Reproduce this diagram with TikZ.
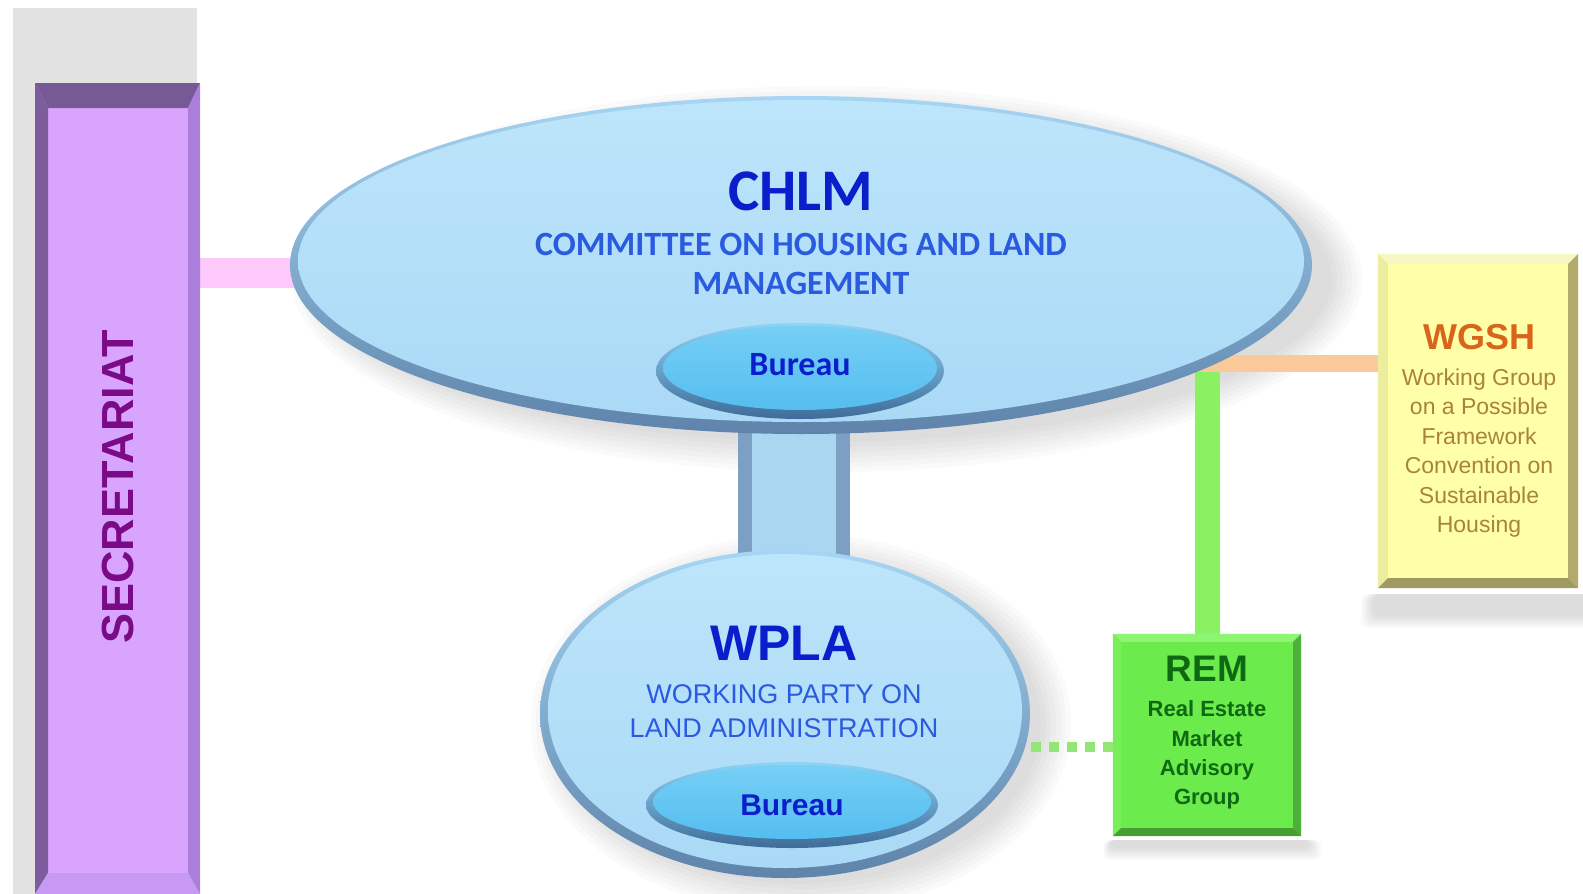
\documentclass[tikz,border=0pt]{standalone}
\usepackage{fontspec}
\setmainfont{Liberation Sans}
\newfontfamily\carlito{Carlito}
\usetikzlibrary{shapes.geometric,calc}
\pgfdeclarelayer{shadow}
\pgfdeclarelayer{bg}
\pgfsetlayers{shadow,bg,main}

\definecolor{secface}{HTML}{D9A4FE}
\definecolor{sectop}{HTML}{775A95}
\definecolor{secleft}{HTML}{7D5C9E}
\definecolor{secright}{HTML}{AC7EDC}
\definecolor{secbot}{HTML}{C799F2}
\definecolor{sectext}{HTML}{7B0A86}
\definecolor{shadowgray}{HTML}{E2E2E2}
\definecolor{pinkline}{HTML}{FDC8FA}
\definecolor{facetop}{HTML}{BDE5FB}
\definecolor{facebot}{HTML}{AAD9F6}
\definecolor{rimtop}{HTML}{A6D6F4}
\definecolor{rimbot}{HTML}{5F83AA}
\definecolor{burtop}{HTML}{76CFF6}
\definecolor{burbot}{HTML}{55BDF0}
\definecolor{burrimtop}{HTML}{8FD3F5}
\definecolor{burrimbot}{HTML}{3E6C98}
\definecolor{titleblue}{HTML}{0A1ECB}
\definecolor{subblue}{HTML}{2A5AE0}
\definecolor{barface}{HTML}{AAD6F2}
\definecolor{barside}{HTML}{7C9FC3}
\definecolor{remface}{HTML}{6CEB4C}
\definecolor{remtop}{HTML}{8CF672}
\definecolor{remleft}{HTML}{78EE5A}
\definecolor{remright}{HTML}{4EAF3A}
\definecolor{rembot}{HTML}{479F34}
\definecolor{remtext}{HTML}{0D6A12}
\definecolor{greenline}{HTML}{8CF162}
\definecolor{greendot}{HTML}{93E676}
\definecolor{orangeline}{HTML}{F9C99A}
\definecolor{wgface}{HTML}{FFFFA8}
\definecolor{wgtop}{HTML}{F7F7C4}
\definecolor{wgleft}{HTML}{EDEDA0}
\definecolor{wgright}{HTML}{B2AB6C}
\definecolor{wgbot}{HTML}{9F9A62}
\definecolor{wgtitle}{HTML}{D8651B}
\definecolor{wgtext}{HTML}{A8843A}

\begin{document}
\begin{tikzpicture}[x=1pt,y=-1pt,
  rimoval/.style={ellipse, inner sep=0, draw=none, top color=rimtop, bottom color=rimbot},
  burrim/.style={ellipse, inner sep=0, draw=none, top color=burrimtop, bottom color=burrimbot},
  flatbox/.style={rectangle, inner sep=0, draw=none},
  bigtitle/.style={text=titleblue, inner sep=0},
  subtitle/.style={text=subblue, align=center, inner sep=0},
  softshadow/.style={black, opacity=0.018}
]
\useasboundingbox (0,0) rectangle (1583,894);

% ---------- Secretariat ----------
\fill[shadowgray] (13,8) rectangle (197,894);
\node[flatbox, fill=secface, minimum width=165, minimum height=811] (sec) at (117.5,488.5) {};
\fill[sectop] (35,83) -- (200,83) -- (188,108) -- (48,108) -- cycle;
\fill[secleft] (35,83) -- (48,108) -- (48,873) -- (35,894) -- cycle;
\fill[secright] (200,83) -- (188,108) -- (188,873) -- (200,894) -- cycle;
\fill[secbot] (35,894) -- (48,873) -- (188,873) -- (200,894) -- cycle;
\node[rotate=90, text=sectext, inner sep=0, font=\bfseries\fontsize{45}{48}\selectfont] (sectxt) at (118,487) {SECRETARIAT};

% ---------- CHLM ----------
\node[rimoval, minimum width=1022, minimum height=338] (chlm) at (801,265) {};
\shade[top color=facetop, bottom color=facebot] ($(chlm.center)+(0,-4)$) ellipse [x radius=503, y radius=161];
\node[burrim, minimum width=288, minimum height=96] (bur1) at (800,371) {};
\shade[top color=burtop, bottom color=burbot] ($(bur1.center)+(0,-3)$) ellipse [x radius=137, y radius=42];

\node[bigtitle, font=\carlito\bfseries\fontsize{59}{60}\selectfont] (chlmt) at (801,191) {CHLM};
\node[subtitle, font=\carlito\bfseries\fontsize{34}{39}\selectfont] (chlms) at (801,264) {COMMITTEE ON HOUSING AND LAND\\MANAGEMENT};
\node[bigtitle, font=\carlito\bfseries\fontsize{34}{36}\selectfont] (bur1t) at (800,365) {Bureau};

% ---------- WPLA ----------
\node[rimoval, minimum width=490, minimum height=328] (wpla) at (785,714) {};
\shade[top color=facetop, bottom color=facebot] ($(wpla.center)+(0,-3)$) ellipse [x radius=237, y radius=157];
\node[burrim, minimum width=292, minimum height=86] (bur2) at (792,805) {};
\shade[top color=burtop, bottom color=burbot] ($(bur2.center)+(0,-3)$) ellipse [x radius=139, y radius=37];

\node[bigtitle, font=\bfseries\fontsize{50}{52}\selectfont] (wplat) at (784,643) {WPLA};
\node[subtitle, font=\fontsize{27}{34}\selectfont] (wplas) at (784,711) {WORKING PARTY ON\\LAND ADMINISTRATION};
\node[bigtitle, font=\bfseries\fontsize{30}{32}\selectfont] (bur2t) at (792,805) {Bureau};

% ---------- REM ----------
\node[flatbox, fill=remface, minimum width=188, minimum height=202] (rem) at (1207,735) {};
\fill[remtop] (rem.north west) -- (rem.north east) -- ([shift={(-8,8)}]rem.north east) -- ([shift={(8,8)}]rem.north west) -- cycle;
\fill[remleft] (rem.north west) -- ([shift={(8,8)}]rem.north west) -- ([shift={(8,-8)}]rem.south west) -- (rem.south west) -- cycle;
\fill[remright] (rem.north east) -- ([shift={(-8,8)}]rem.north east) -- ([shift={(-8,-8)}]rem.south east) -- (rem.south east) -- cycle;
\fill[rembot] (rem.south west) -- ([shift={(8,-8)}]rem.south west) -- ([shift={(-8,-8)}]rem.south east) -- (rem.south east) -- cycle;
\node[text=remtext, inner sep=0, font=\bfseries\fontsize{37}{40}\selectfont] (remt) at (1207,669) {REM};
\node[text=remtext, inner sep=0, align=center, font=\bfseries\fontsize{22}{29.3}\selectfont] (rems) at (1207,755) {Real Estate\\Market\\Advisory\\Group};

% ---------- WGSH ----------
\node[flatbox, fill=wgface, minimum width=200, minimum height=334] (wgsh) at (1478,421) {};
\fill[wgtop] (wgsh.north west) -- (wgsh.north east) -- ([shift={(-10,10)}]wgsh.north east) -- ([shift={(10,10)}]wgsh.north west) -- cycle;
\fill[wgleft] (wgsh.north west) -- ([shift={(10,10)}]wgsh.north west) -- ([shift={(10,-10)}]wgsh.south west) -- (wgsh.south west) -- cycle;
\fill[wgright] (wgsh.north east) -- ([shift={(-10,10)}]wgsh.north east) -- ([shift={(-10,-10)}]wgsh.south east) -- (wgsh.south east) -- cycle;
\fill[wgbot] (wgsh.south west) -- ([shift={(10,-10)}]wgsh.south west) -- ([shift={(-10,-10)}]wgsh.south east) -- (wgsh.south east) -- cycle;
\node[text=wgtitle, inner sep=0, font=\bfseries\fontsize{36}{38}\selectfont] (wgsht) at (1479,337) {WGSH};
\node[text=wgtext, inner sep=0, align=center, font=\fontsize{23}{29.5}\selectfont] (wgshs) at (1479,453) {Working Group\\on a Possible\\Framework\\Convention on\\Sustainable\\Housing};

% ---------- connectors ----------
\coordinate (pinky) at (0,273);
\coordinate (oy) at (0,363);
\coordinate (dy) at (0,747);
\begin{pgfonlayer}{bg}
  \draw[pinkline, line width=30] (sec.east |- pinky) -- (chlm.center |- pinky);
  \coordinate (btop) at ([xshift=-7pt]chlm.south);
  \coordinate (bbot) at ([yshift=-20pt]btop |- wpla.north);
  \fill[barside] ([shift={(-56,-10)}]btop) rectangle ([xshift=56pt]bbot);
  \fill[barface] ([shift={(-42,-10)}]btop) rectangle ([xshift=42pt]bbot);
  \draw[greenline, line width=25] (rem.north) -- (rem.north |- oy);
  \draw[orangeline, line width=17] (chlm.center |- oy) -- (wgsh.west |- oy);
  \draw[greendot, line width=10, dash pattern=on 10pt off 8pt] (rem.west |- dy) -- (wpla.center |- dy);
\end{pgfonlayer}

% ---------- shadows ----------
\begin{pgfonlayer}{shadow}
  \foreach \k in {0,...,6} {
    \fill[softshadow] ($(chlm.center)+(26,14)$) ellipse [x radius={505+5*\k}, y radius={163+5*\k}];
    \fill[softshadow] ($(wpla.center)+(16,10)$) ellipse [x radius={240+5*\k}, y radius={160+5*\k}];
    \fill[softshadow, rounded corners=8] ([shift={(-5+\k*-2,6)}]wgsh.south west) rectangle ([shift={(10+2*\k,28+2*\k)}]wgsh.south east);
    \fill[softshadow, rounded corners=6] ([shift={(-3+\k*-1,4)}]rem.south west) rectangle ([shift={(8+2*\k,12+2*\k)}]rem.south east);
  }
\end{pgfonlayer}
\end{tikzpicture}
\end{document}
